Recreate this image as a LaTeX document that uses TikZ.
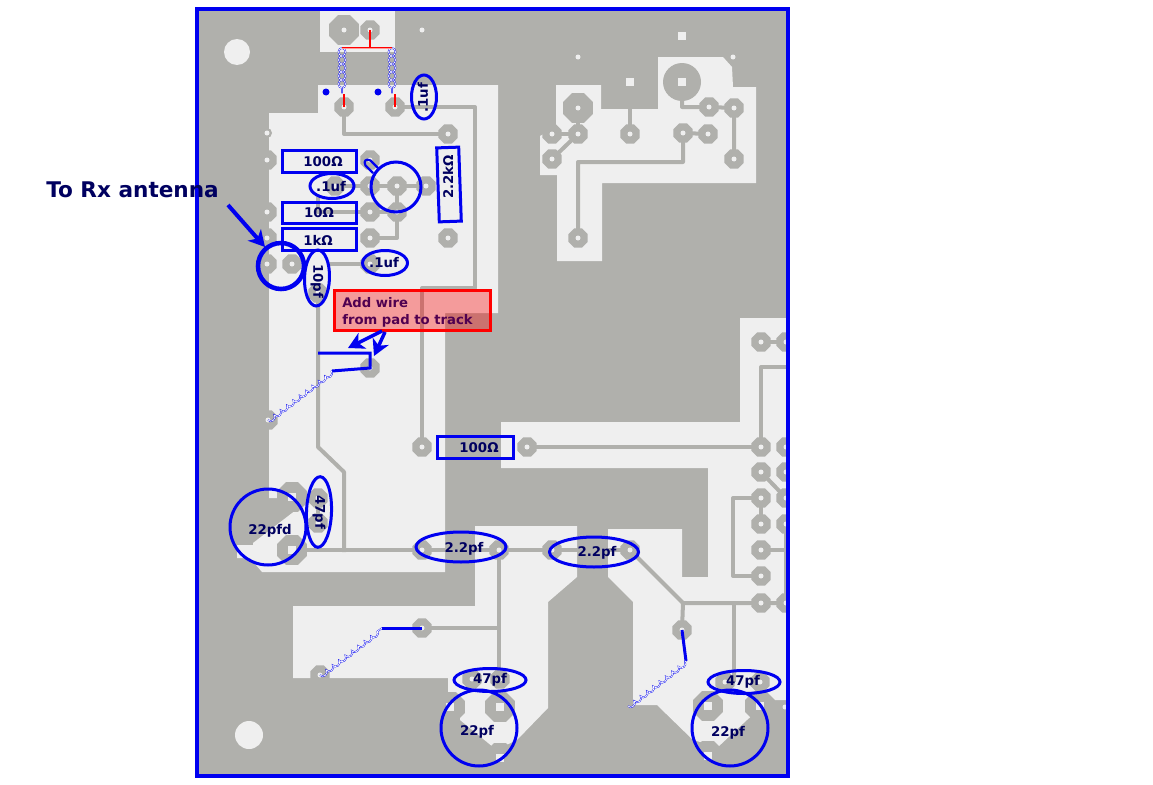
\documentclass[tikz,border=0pt]{standalone}
\usepackage{fontspec}
\setmainfont{DejaVu Sans}
\usetikzlibrary{shapes.geometric,decorations.pathmorphing,arrows.meta}
\definecolor{cu}{HTML}{B0B0AC}
\definecolor{bare}{HTML}{EFEFEF}
\definecolor{mk}{HTML}{0000F0}
\definecolor{ink}{HTML}{000060}
\definecolor{purp}{HTML}{500050}
\tikzset{
 copper/.style={fill=cu},
 clearance/.style={fill=bare},
 trace/.style={draw=cu,line width=3pt,line join=round},
 padn/.style={regular polygon,regular polygon sides=8,fill=cu,inner sep=0pt,minimum size=15.5pt,outer sep=0pt},
 padb/.style={padn,minimum size=24pt},
 hole/.style={fill=bare},
 markbox/.style={draw=mk,line width=2.25pt,inner sep=0pt,minimum width=#1},
 markbox/.default=55pt,
 ring/.style={ellipse,draw=mk,line width=2.25pt,inner sep=0pt},
 lab/.style={text=ink,font=\bfseries\fontsize{10pt}{12pt}\selectfont,inner sep=0pt},
 wire/.style={draw=mk,line width=2.25pt},
 thickarrow/.style={draw=mk,line width=3pt,-{Stealth[length=12pt,width=13pt,inset=3.5pt]}},
 coilwire/.style={draw=mk,line width=.3pt,double=white,double distance=.55pt,decorate,decoration={bumps,amplitude=2.6pt,segment length=12pt}},
 coilmirror/.style={coilwire,decoration={bumps,amplitude=2.6pt,segment length=12pt,mirror}},
 redwire/.style={draw=red,line width=1.5pt},
}
\begin{document}
\begin{tikzpicture}[x=0.75pt,y=-0.75pt]
\useasboundingbox (0,0) rectangle (1153,785);
\fill[white] (0,0) rectangle (1153,785);
% board
\fill[copper] (197,9) rectangle (788,776);
\begin{scope}
\clip (197,9) rectangle (788,776);
% clearances
\fill[clearance] (320,9) rectangle (395,52);
\fill[clearance] (318,85) -- (498,85) -- (498,313) -- (445,313) -- (445,572) -- (262,572) -- (250,558) -- (237,558) -- (237,545) -- (253,545) -- (253,543) -- (296,510) -- (280,498) -- (269,498) -- (269,113) -- (318,113) -- cycle;
\fill[clearance] (475,526) -- (577,526) -- (577,577) -- (548,602) -- (548,708) -- (517,740) -- (500,748) -- (493,747) -- (460,720) -- (460,708) -- (448,693) -- (448,678) -- (293,678) -- (293,606) -- (475,606) -- cycle;
\fill[clearance] (501,422) -- (740,422) -- (740,318) -- (788,318) -- (788,700) -- (770,700) -- (747,720) -- (718,747) -- (693,740) -- (657,705) -- (633,705) -- (633,602) -- (608,577) -- (608,529) -- (682,529) -- (682,577) -- (708,577) -- (708,468) -- (501,468) -- cycle;
\fill[clearance] (658,57) -- (723,57) -- (732,67) -- (733,87) -- (756,87) -- (756,183) -- (602,183) -- (602,261) -- (557,261) -- (557,175) -- (540,175) -- (540,136) -- (556,127) -- (556,85) -- (601,85) -- (601,109) -- (658,109) -- cycle;
\fill[clearance] (237,52) circle (13);
\fill[clearance] (249,735) circle (14);
\fill[clearance] (682,36) ++(-4,-4) rectangle ++(8,8);
\fill[clearance] (630,82) ++(-4,-4) rectangle ++(8,8);
% pad positions
\foreach \n/\x/\y in {a1/344/107,a2/395/107,a3/448/134,a4/267/160,a5/370/160,a6/335/186,a7/370/186,a8/397/186,a9/426/186,a10/267/212,a11/370/212,a12/397/212,a13/267/238,a14/370/238,a15/448/238,a16/267/264,a17/292/264,a18/370/264,a19/318/293,a20/370/368,a21/268/420,a22/422/447,a23/318/498,a24/318/523,a25/422/550,a26/499/550,a27/552/550,a28/630/550,a29/527/447,a30/422/628,a31/320/675,a32/472/679,a33/500/679,a34/682/630,a35/725/682,a36/760/682,a37/370/30,
 r1/761/342,r2/786/342,r3/761/447,r4/786/447,r5/761/472,r6/786/472,r7/761/498,r8/786/498,r9/761/524,r10/786/524,r11/761/550,r12/761/576,r13/761/603,r14/786/603,
 t1/578/134,t2/552/134,t3/552/159,t4/630/134,t5/683/133,t6/708/134,t7/734/108,t8/709/107,t9/734/159,t10/578/238}
 {\coordinate (\n) at (\x,\y);}
\foreach \n/\x/\y in {b1/344/30,b2/578/108,b3/292/497,b4/292/550,b5/450/707,b6/500/707,b7/500/758,b8/708/706,b9/760/706,b10/708/756}
 {\coordinate (\n) at (\x,\y);}
\coordinate (bigpad) at (682,82);
% traces
\path[trace] (a1) |- (a3);
\path[trace] (a2) -- (475,107) -- (475,288) -- (422,288) -- (a22);
\path[trace] (a6) -- (a7) -- (a8) -- (a9);
\path[trace] (a8) -- (a12) -- (397,238) -- (a14);
\path[trace] (318,197) |- (a11);
\path[trace] (a11) -- (a12);
\path[trace] (a18) -- (329,264);
\path[trace] (a19) -- (318,447) -- (344,472) -- (344,552);
\path[trace] (a23) -- (a24);
\path[trace] (b4) -- (a25);
\path[trace] (a25) -- (a26) -- (a27) -- (a28);
\path[trace] (a26) -- (499,679);
\path[trace] (a30) -- (499,628);
\path[trace] (a29) -- (r3);
\path[trace] (a28) -- (683,603) -- (r13) -- (r14);
\path[trace] (683,603) -- (a34);
\path[trace] (734,603) -- (734,682);
\path[trace] (r1) -- (r2);
\path[trace] (r3) -- (761,367) -- (788,367);
\path[trace] (r5) -- (r8);
\path[trace] (r7) -- (733,498) -- (733,576) -- (r12);
\path[trace] (r7) -- (r9);
\path[trace] (r11) -- (788,550);
\path[trace] (r10) -- (786,603);
\path[trace] (t1) -- (b2);
\path[trace] (t2) -- (t1);
\path[trace] (t3) -- (t1);
\path[trace] (t4) -- (630,109);
\path[trace] (bigpad) -- (682,107) -- (t8) -- (t7) -- (t9);
\path[trace] (t10) -- (578,162) -- (683,162) -- (t5) -- (t6);
% pads
\foreach \n in {a1,a2,a3,a4,a5,a6,a7,a8,a9,a10,a11,a12,a13,a14,a15,a16,a17,a18,a19,a20,a21,a22,a23,a24,a25,a26,a27,a28,a29,a30,a31,a32,a33,a34,a35,a36,a37,r1,r2,r3,r4,r5,r6,r7,r8,r9,r10,r11,r12,r13,r14,t1,t2,t3,t4,t5,t6,t7,t8,t9,t10}
 {\node[padn] (pad\n) at (\n) {}; \fill[hole] (\n) circle (2.5);}
\node[padb] (padb1) at (b1) {};
\fill[hole] (b1) circle (2.5);
\node[padb] (padb2) at (b2) {};
\fill[hole] (b2) circle (2.5);
\foreach \n in {b3,b4,b5,b6,b7,b8,b9,b10}
 {\node[padb] (pad\n) at (\n) {}; \fill[hole] (\n) ++(-4,-4) rectangle ++(8,8);}
\fill[cu] (bigpad) circle (19);
\fill[hole] (bigpad) ++(-4,-4) rectangle ++(8,8);
% tiny vias
\fill[hole] (422,30) circle (2.5);
\fill[cu] (267,133) circle (5); \fill[hole] (267,133) circle (2.5);
\fill[hole] (578,57) circle (2.5);
\fill[cu] (733,57) circle (6); \fill[hole] (733,57) circle (2.5);
\node[padn,minimum size=10pt] (edgepad) at (785,707) {}; \fill[hole] (785,707) circle (2.5);
\end{scope}
% board outline
\draw[mk,line width=3pt] (197,9) rectangle (788,776);
% inductors (top)
\coordinate (c1a) at (342,48); \coordinate (c1b) at (342,93);
\coordinate (c2a) at (392,48); \coordinate (c2b) at (392,93);
\path[coilwire] (c1a) -- (c1b);
\path[coilmirror] (c1a) -- (c1b);
\path[coilwire] (c2a) -- (c2b);
\path[coilmirror] (c2a) -- (c2b);
\draw[red,line width=.35pt,double=white!60!red,double distance=.6pt] (c1a) -- (c2a);
\path[redwire] (a37) -- (370,48);
\path[redwire] (344,94) -- (a1);
\path[redwire] (395,94) -- (a2);
\fill[mk] (326,92) circle (3.5);
\fill[mk] (378,92) circle (3.5);
% wires
\path[wire] (318,353) -- (370,353) -- (a20) -- (332,371) coordinate (k1);
\path[coilmirror] (a21) -- (k1);
\path[wire] (a30) -- (382,628) coordinate (k2);
\path[coilmirror] (a31) -- (k2);
\path[wire] (a34) -- (686,661) coordinate (k3);
\coordinate (k3e) at (628,706);
\path[coilmirror] (k3e) -- (k3);
% marks
\node[markbox=55.5pt,minimum height=16.5pt] (m1) at (319,161) {};
\node[markbox=55.5pt,minimum height=15.75pt] (m2) at (319,212.5) {};
\node[markbox=55.5pt,minimum height=16.5pt] (m3) at (319,239) {};
\node[markbox=16.5pt,minimum height=55.5pt,rotate=2] (m4) at (449,184.5) {};
\node[markbox=57pt,minimum height=16.5pt] (m5) at (475,447) {};
\node[ring,minimum width=18.75pt,minimum height=33pt] (e1) at (424,97) {};
\node[ring,minimum width=33pt,minimum height=18.75pt] (e2) at (332,186) {};
\node[ring,minimum width=33.75pt,minimum height=18.75pt] (e3) at (385,263) {};
\node[ring,minimum width=18.75pt,minimum height=42pt,rotate=-2] (e4) at (317,278) {};
\node[ring,minimum width=18.75pt,minimum height=53pt,rotate=-2] (e5) at (319,512) {};
\node[ring,minimum width=67.5pt,minimum height=22.5pt] (e6) at (461,547) {};
\node[ring,minimum width=66.75pt,minimum height=22.5pt] (e7) at (594,552) {};
\node[ring,minimum width=54pt,minimum height=17.25pt] (e8) at (490,680) {};
\node[ring,minimum width=54pt,minimum height=17.25pt] (e9) at (744,682) {};
\node[ring,minimum width=37.5pt,minimum height=37.5pt] (c1) at (396,187) {};
\node[ring,line width=3.4pt,minimum width=34.5pt,minimum height=34.5pt] (c2) at (281,266) {};
\node[ring,minimum width=57pt,minimum height=57pt] (c3) at (268,527) {};
\node[ring,minimum width=57pt,minimum height=57pt] (c4) at (479,728) {};
\node[ring,minimum width=57pt,minimum height=57pt] (c5) at (730,728) {};
\draw[mk,line width=1.6pt,line join=round] (378,168) -- (370.5,160.5) .. controls (366,158) and (363,161) .. (365.5,165.5) -- (373,173);
% labels
\node[lab] (l1) at (323,162) {100Ω};
\node[lab] (l2) at (331,187) {.1uf};
\node[lab] (l3) at (319,213) {10Ω};
\node[lab] (l4) at (318,240) {1kΩ};
\node[lab,rotate=90] (l5) at (448,177) {2.2kΩ};
\node[lab,rotate=90] (l6) at (423,98) {.1uf};
\node[lab] (l7) at (384,263) {.1uf};
\node[lab,rotate=-90] (l8) at (317,281) {10pf};
\node[lab] (l9) at (479,448) {100Ω};
\node[lab,rotate=-90] (l10) at (319,512) {47pf};
\node[lab] (l11) at (270,531) {22pfd};
\node[lab] (l12) at (464,549) {2.2pf};
\node[lab] (l13) at (597,553) {2.2pf};
\node[lab] (l14) at (490,680) {47pf};
\node[lab] (l15) at (743,682) {47pf};
\node[lab] (l16) at (477,732) {22pf};
\node[lab] (l17) at (728,733) {22pf};
% note
\node[draw=red,line width=2.25pt,fill=red,fill opacity=.35,draw opacity=1,minimum width=117pt,minimum height=30pt,inner sep=0pt] (note) at (412.5,310.5) {};
\node[anchor=base west,text=purp,font=\bfseries\fontsize{9.9pt}{11pt}\selectfont,inner sep=0pt] (n1) at (342,307) {Add wire};
\node[anchor=base west,text=purp,font=\bfseries\fontsize{9.9pt}{11pt}\selectfont,inner sep=0pt] (n2) at (342,324) {from pad to track};
\coordinate (na1) at (382,331);
\coordinate (na2) at (385,332);
\path[thickarrow,line width=2.6pt] (na1) -- (348,348);
\path[thickarrow,line width=2.6pt] (na2) -- (374,356);
\node[anchor=base west,text=ink,font=\bfseries\fontsize{16.2pt}{18pt}\selectfont,inner sep=0pt] (ant) at (46,197) {To Rx antenna};
\coordinate (antarrow) at (228,205);
\path[thickarrow] (antarrow) -- (265,247);
\end{tikzpicture}
\end{document}
